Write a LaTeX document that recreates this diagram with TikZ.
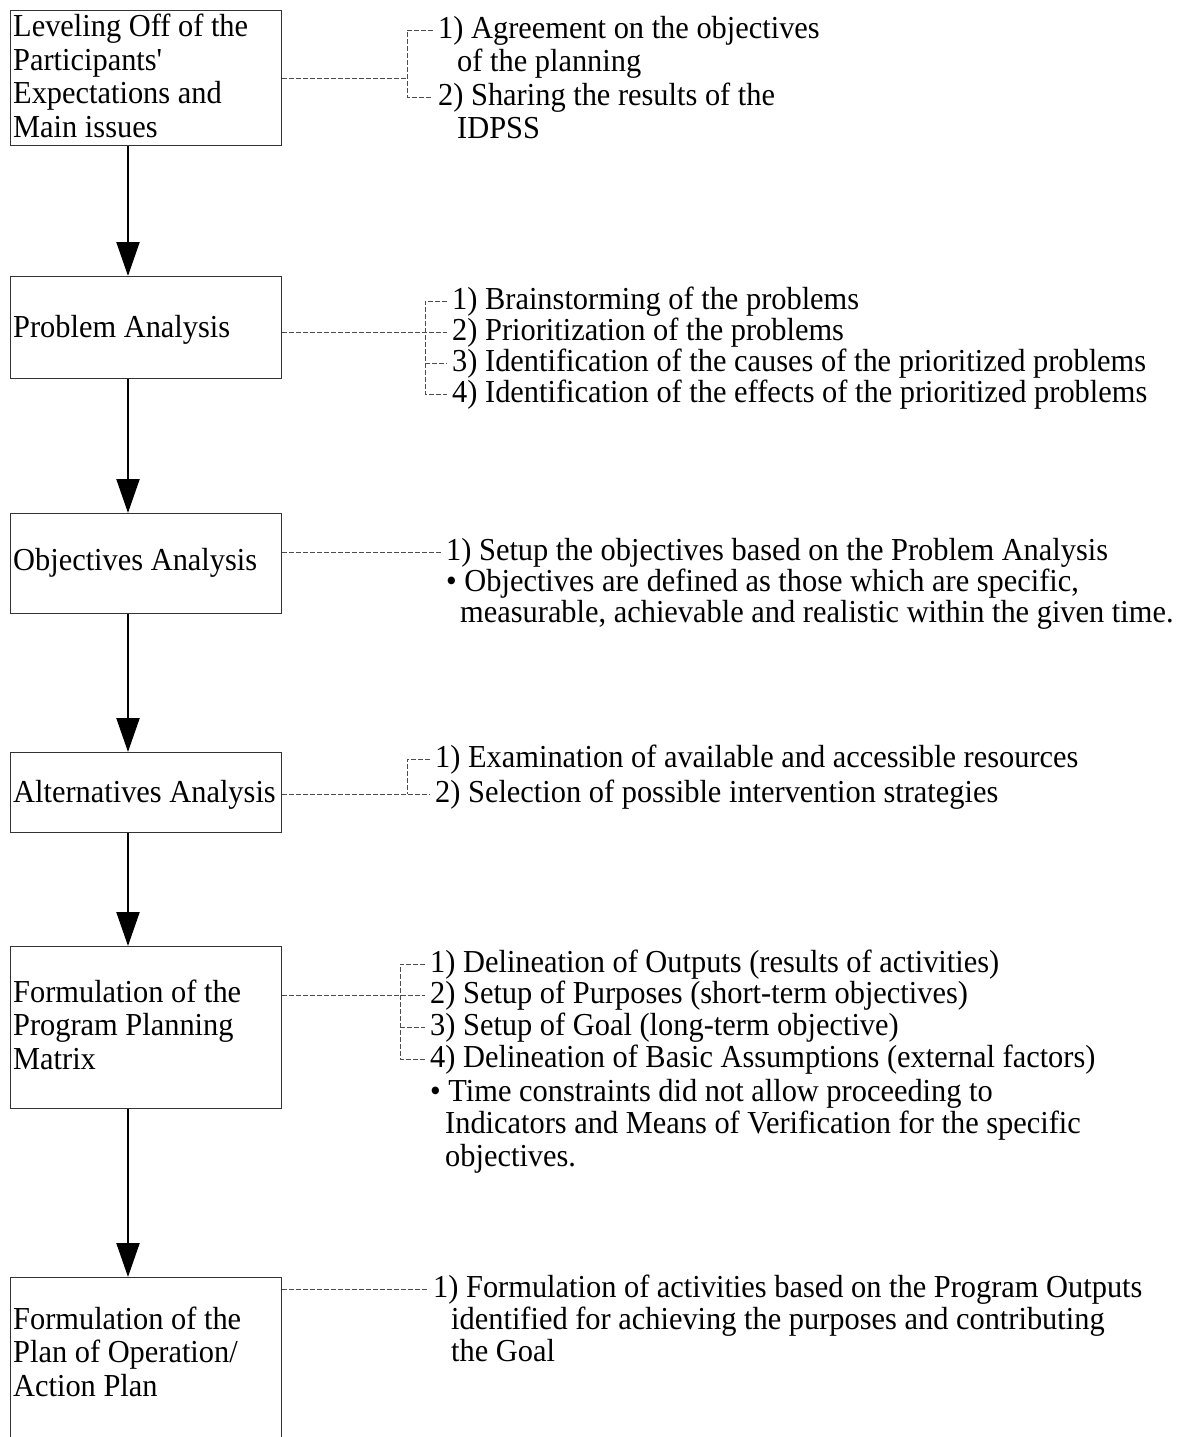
\documentclass[tikz,border=0pt]{standalone}
\usepackage{fontspec}
\setmainfont[FakeStretch=0.95]{Liberation Serif}
\usetikzlibrary{arrows.meta}
\begin{document}
\begin{tikzpicture}[x=1pt,y=-1pt,
  stagebox/.style={draw=black!80, line width=1.1pt, minimum width=271pt, anchor=north west, inner sep=0pt},
  boxtext/.style={anchor=base west, inner sep=0pt, align=left, font=\fontsize{32}{33.5}\selectfont},
  item/.style={anchor=base west, inner xsep=5pt, inner ysep=0pt, font=\fontsize{32}{33}\selectfont},
  flow/.style={line width=2.2pt, -{Triangle[width=23pt,length=34pt]}},
  link/.style={dash pattern=on 5pt off 2pt, line width=0.9pt, draw=black!70},
]
\useasboundingbox (0,0) rectangle (1176,1437);
\coordinate (ax) at (128,0);

% stage boxes
\node[stagebox, minimum height=135pt] (b1) at (10,10) {};
\node[stagebox, minimum height=102pt] (b2) at (10,276) {};
\node[stagebox, minimum height=100pt] (b3) at (10,513) {};
\node[stagebox, minimum height=80pt]  (b4) at (10,752) {};
\node[stagebox, minimum height=162pt] (b5) at (10,946) {};
\node[stagebox, minimum height=185pt] (b6) at (10,1277) {};

% box texts (anchor = baseline of the last line)
\node[boxtext] (t1) at (13,137) {Leveling Off of the\\Participants\textquotesingle\\Expectations and\\Main issues};
\node[boxtext] (t2) at (13,337) {Problem Analysis};
\node[boxtext] (t3) at (13,570) {Objectives Analysis};
\node[boxtext] (t4) at (13,802) {Alternatives Analysis};
\node[boxtext] (t5) at (13,1069) {Formulation of the\\Program Planning\\Matrix};
\node[boxtext] (t6) at (13,1396) {Formulation of the\\Plan of Operation/\\Action Plan};

% flow arrows
\draw[flow] (b1.south -| ax) -- (b2.north -| ax);
\draw[flow] (b2.south -| ax) -- (b3.north -| ax);
\draw[flow] (b3.south -| ax) -- (b4.north -| ax);
\draw[flow] (b4.south -| ax) -- (b5.north -| ax);
\draw[flow] (b5.south -| ax) -- (b6.north -| ax);

% block 1
\node[item] (r1a) at (433,38) {1) Agreement on the objectives};
\node[item] (r1b) at (452,71) {of the planning};
\node[item] (r1c) at (433,105) {2) Sharing the results of the};
\node[item] (r1d) at (452,138) {IDPSS};
\coordinate (k1) at (407,0);
\draw[link] (r1a.west) -- (k1 |- r1a.west) -- (k1 |- r1c.west) -- (r1c.west);
\draw[link] (b1.east) -- (b1.east -| k1);

% block 2
\node[item] (r2a) at (447,309) {1) Brainstorming of the problems};
\node[item] (r2b) at (447,340) {2) Prioritization of the problems};
\node[item] (r2c) at (447,371) {3) Identification of the causes of the prioritized problems};
\node[item] (r2d) at (447,402) {4) Identification of the effects of the prioritized problems};
\coordinate (k2) at (425,0);
\draw[link] (r2a.west) -- (k2 |- r2a.west) -- (k2 |- r2d.west) -- (r2d.west);
\draw[link] (k2 |- r2c.west) -- (r2c.west);
\draw[link] (b2.east |- r2b.west) -- (r2b.west);

% block 3
\node[item] (r3a) at (441,560) {1) Setup the objectives based on the Problem Analysis};
\node[item] (r3b) at (441,591) {\textbullet\ Objectives are defined as those which are specific,};
\node[item] (r3c) at (455,622) {measurable, achievable and realistic within the given time.};
\draw[link] (b3.east |- r3a.west) -- (r3a.west);

% block 4
\node[item] (r4a) at (430,767) {1) Examination of available and accessible resources};
\node[item] (r4b) at (430,802) {2) Selection of possible intervention strategies};
\coordinate (k4) at (407,0);
\draw[link] (r4a.west) -- (k4 |- r4a.west) -- (k4 |- r4b.west);
\draw[link] (b4.east |- r4b.west) -- (r4b.west);

% block 5
\node[item] (r5a) at (425,972) {1) Delineation of Outputs (results of activities)};
\node[item] (r5b) at (425,1003) {2) Setup of Purposes (short-term objectives)};
\node[item] (r5c) at (425,1035) {3) Setup of Goal (long-term objective)};
\node[item] (r5d) at (425,1067) {4) Delineation of Basic Assumptions (external factors)};
\node[item] (r5e) at (425,1101) {\textbullet\ Time constraints did not allow proceeding to};
\node[item] (r5f) at (440,1133) {Indicators and Means of Verification for the specific};
\node[item] (r5g) at (440,1166) {objectives.};
\coordinate (k5) at (400,0);
\draw[link] (r5a.west) -- (k5 |- r5a.west) -- (k5 |- r5d.west) -- (r5d.west);
\draw[link] (k5 |- r5c.west) -- (r5c.west);
\draw[link] (b5.east |- r5b.west) -- (r5b.west);

% block 6
\node[item] (r6a) at (428,1297) {1) Formulation of activities based on the Program Outputs};
\node[item] (r6b) at (446,1329) {identified for achieving the purposes and contributing};
\node[item] (r6c) at (446,1361) {the Goal};
\draw[link] (b6.east |- r6a.west) -- (r6a.west);
\end{tikzpicture}
\end{document}
